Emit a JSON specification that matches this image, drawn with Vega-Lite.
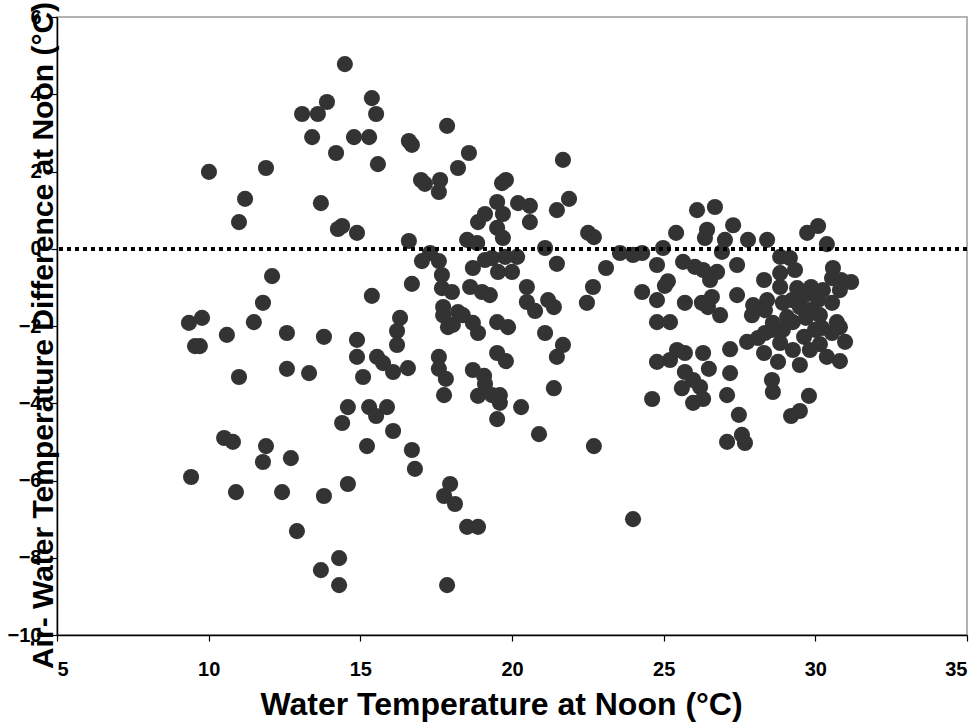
{
  "$schema": "https://vega.github.io/schema/vega-lite/v6.json",
  "width": 910,
  "height": 618,
  "autosize": "none",
  "padding": {"left": 57, "top": 17, "right": 13, "bottom": 88},
  "background": "white",
  "config": {
    "view": {"stroke": "#999999", "strokeWidth": 1.5},
    "axis": {
      "labelFont": "Liberation Sans", "labelFontWeight": "bold", "labelFontSize": 20, "labelColor": "black",
      "titleFont": "Liberation Sans", "titleFontWeight": "bold", "titleFontSize": 31, "titleColor": "black",
      "domainColor": "black", "domainWidth": 1.5, "tickColor": "black", "tickSize": 6, "tickWidth": 1.2, "grid": false
    }
  },
  "data": {"values": [
    {"x":14.49,"y":4.78},{"x":13.90,"y":3.80},{"x":13.08,"y":3.49},{"x":13.60,"y":3.49},{"x":15.38,"y":3.90},
    {"x":15.52,"y":3.49},{"x":13.41,"y":2.89},{"x":14.79,"y":2.89},{"x":15.29,"y":2.89},{"x":14.20,"y":2.48},
    {"x":15.58,"y":2.19},{"x":16.60,"y":2.79},{"x":16.70,"y":2.69},{"x":17.86,"y":3.18},{"x":10.01,"y":1.99},
    {"x":11.89,"y":2.09},{"x":11.20,"y":1.29},{"x":11.00,"y":0.69},{"x":13.70,"y":1.18},{"x":14.40,"y":0.59},
    {"x":14.26,"y":0.51},{"x":14.89,"y":0.41},{"x":16.60,"y":0.20},{"x":17.00,"y":1.78},{"x":17.13,"y":1.68},
    {"x":17.63,"y":1.78},{"x":17.59,"y":1.47},{"x":18.22,"y":2.09},{"x":18.58,"y":2.48},{"x":17.30,"y":-0.11},
    {"x":17.03,"y":-0.32},{"x":17.59,"y":-0.32},{"x":17.69,"y":-0.68},{"x":17.69,"y":-1.02},{"x":16.70,"y":-0.91},
    {"x":15.38,"y":-1.22},{"x":12.09,"y":-0.71},{"x":11.79,"y":-1.40},{"x":11.49,"y":-1.90},{"x":9.78,"y":-1.79},
    {"x":9.35,"y":-1.92},{"x":9.55,"y":-2.52},{"x":9.71,"y":-2.52},{"x":10.60,"y":-2.23},{"x":12.58,"y":-2.18},
    {"x":13.80,"y":-2.28},{"x":14.89,"y":-2.36},{"x":14.89,"y":-2.80},{"x":16.31,"y":-1.79},{"x":16.21,"y":-2.13},
    {"x":16.21,"y":-2.49},{"x":17.73,"y":-1.51},{"x":17.73,"y":-1.72},{"x":17.89,"y":-2.03},{"x":15.55,"y":-2.80},
    {"x":15.75,"y":-2.96},{"x":16.08,"y":-3.19},{"x":16.57,"y":-3.09},{"x":15.09,"y":-3.32},{"x":17.59,"y":-2.80},
    {"x":17.59,"y":-3.11},{"x":17.82,"y":-3.37},{"x":17.76,"y":-3.79},{"x":11.00,"y":-3.32},{"x":12.58,"y":-3.11},
    {"x":13.31,"y":-3.22},{"x":14.59,"y":-4.10},{"x":14.40,"y":-4.51},{"x":15.29,"y":-4.10},{"x":15.88,"y":-4.10},
    {"x":15.52,"y":-4.33},{"x":16.08,"y":-4.72},{"x":15.22,"y":-5.11},{"x":16.70,"y":-5.21},{"x":16.80,"y":-5.70},
    {"x":10.51,"y":-4.90},{"x":10.80,"y":-5.00},{"x":11.89,"y":-5.11},{"x":11.79,"y":-5.52},{"x":12.71,"y":-5.42},
    {"x":9.42,"y":-5.91},{"x":10.90,"y":-6.30},{"x":12.42,"y":-6.30},{"x":13.80,"y":-6.40},{"x":14.59,"y":-6.09},
    {"x":12.91,"y":-7.31},{"x":14.30,"y":-8.01},{"x":13.70,"y":-8.32},{"x":14.30,"y":-8.71},{"x":17.86,"y":-8.71},
    {"x":17.96,"y":-6.09},{"x":17.76,"y":-6.40},{"x":18.12,"y":-6.61},{"x":18.52,"y":-7.20},{"x":18.88,"y":-7.20},
    {"x":21.68,"y":2.30},{"x":19.80,"y":1.78},{"x":19.67,"y":1.70},{"x":21.88,"y":1.29},{"x":21.48,"y":1.00},
    {"x":19.51,"y":1.21},{"x":20.20,"y":1.18},{"x":20.59,"y":1.11},{"x":20.59,"y":0.69},{"x":19.11,"y":0.90},
    {"x":18.88,"y":0.69},{"x":19.70,"y":0.90},{"x":19.51,"y":0.54},{"x":19.70,"y":0.28},{"x":22.51,"y":0.41},
    {"x":22.70,"y":0.30},{"x":18.52,"y":0.23},{"x":18.85,"y":0.15},{"x":21.09,"y":0.02},{"x":21.48,"y":-0.39},
    {"x":18.71,"y":-0.50},{"x":19.11,"y":-0.29},{"x":19.34,"y":-0.24},{"x":19.54,"y":-0.60},{"x":20.00,"y":-0.60},
    {"x":19.77,"y":-0.21},{"x":20.17,"y":-0.21},{"x":18.02,"y":-1.12},{"x":18.62,"y":-0.99},{"x":19.01,"y":-1.12},
    {"x":19.27,"y":-1.20},{"x":20.49,"y":-0.99},{"x":20.49,"y":-1.38},{"x":20.76,"y":-1.61},{"x":21.19,"y":-1.33},
    {"x":21.38,"y":-1.51},{"x":18.22,"y":-1.64},{"x":18.38,"y":-1.72},{"x":18.05,"y":-1.97},{"x":18.71,"y":-1.92},
    {"x":18.88,"y":-2.18},{"x":19.51,"y":-1.90},{"x":19.87,"y":-2.03},{"x":21.09,"y":-2.18},{"x":21.68,"y":-2.49},
    {"x":21.48,"y":-2.80},{"x":18.71,"y":-3.14},{"x":19.08,"y":-3.29},{"x":19.11,"y":-3.50},{"x":19.51,"y":-2.70},
    {"x":19.80,"y":-2.91},{"x":18.88,"y":-3.81},{"x":19.34,"y":-3.79},{"x":19.60,"y":-3.79},{"x":19.60,"y":-3.99},
    {"x":19.51,"y":-4.41},{"x":20.30,"y":-4.10},{"x":21.38,"y":-3.61},{"x":20.89,"y":-4.80},{"x":22.70,"y":-5.11},
    {"x":23.99,"y":-7.00},{"x":24.62,"y":-3.89},{"x":23.10,"y":-0.50},{"x":23.56,"y":-0.11},{"x":23.99,"y":-0.16},
    {"x":24.29,"y":-0.11},{"x":24.98,"y":0.02},{"x":24.78,"y":-0.42},{"x":25.14,"y":-0.84},{"x":25.04,"y":-0.96},
    {"x":22.67,"y":-0.99},{"x":22.47,"y":-1.40},{"x":24.29,"y":-1.12},{"x":24.78,"y":-1.33},{"x":24.78,"y":-1.90},
    {"x":25.21,"y":-1.90},{"x":25.41,"y":0.41},{"x":26.10,"y":1.00},{"x":26.69,"y":1.08},{"x":26.43,"y":0.49},
    {"x":26.36,"y":0.28},{"x":27.29,"y":0.61},{"x":27.02,"y":0.23},{"x":27.78,"y":0.23},{"x":26.92,"y":-0.08},
    {"x":27.42,"y":-0.42},{"x":25.64,"y":-0.34},{"x":26.03,"y":-0.47},{"x":26.30,"y":-0.55},{"x":26.76,"y":-0.60},
    {"x":26.53,"y":-0.81},{"x":25.70,"y":-1.40},{"x":26.26,"y":-1.40},{"x":26.59,"y":-1.25},{"x":26.46,"y":-1.51},
    {"x":26.86,"y":-1.72},{"x":27.42,"y":-1.20},{"x":27.95,"y":-1.46},{"x":27.91,"y":-1.72},{"x":27.75,"y":-2.41},
    {"x":28.11,"y":-2.31},{"x":27.19,"y":-2.60},{"x":27.19,"y":-3.22},{"x":27.09,"y":-3.79},{"x":27.48,"y":-4.30},
    {"x":27.58,"y":-4.82},{"x":27.09,"y":-5.00},{"x":27.68,"y":-5.03},{"x":26.30,"y":-2.70},{"x":26.49,"y":-3.11},
    {"x":25.70,"y":-2.70},{"x":25.44,"y":-2.62},{"x":25.21,"y":-2.88},{"x":24.78,"y":-2.93},{"x":25.70,"y":-3.19},
    {"x":25.97,"y":-3.40},{"x":25.60,"y":-3.61},{"x":26.20,"y":-3.58},{"x":26.30,"y":-3.89},{"x":25.97,"y":-3.99},
    {"x":30.09,"y":0.59},{"x":29.73,"y":0.41},{"x":30.38,"y":0.12},{"x":28.41,"y":0.23},{"x":28.84,"y":-0.21},
    {"x":29.16,"y":-0.24},{"x":29.33,"y":-0.55},{"x":28.84,"y":-0.63},{"x":28.31,"y":-0.81},{"x":28.84,"y":-0.99},
    {"x":29.40,"y":-1.02},{"x":29.86,"y":-0.99},{"x":28.41,"y":-1.33},{"x":28.34,"y":-1.59},{"x":28.93,"y":-1.40},
    {"x":29.23,"y":-1.33},{"x":29.49,"y":-1.51},{"x":30.09,"y":-1.33},{"x":30.55,"y":-1.40},{"x":30.15,"y":-1.72},
    {"x":29.07,"y":-1.77},{"x":29.69,"y":-1.79},{"x":29.26,"y":-1.90},{"x":30.58,"y":-0.50},{"x":30.55,"y":-0.76},
    {"x":30.85,"y":-0.81},{"x":31.18,"y":-0.86},{"x":30.81,"y":-1.07},{"x":30.71,"y":-1.90},{"x":30.81,"y":-2.03},
    {"x":30.55,"y":-2.18},{"x":30.22,"y":-2.05},{"x":30.98,"y":-2.41},{"x":30.15,"y":-2.47},{"x":30.38,"y":-2.80},
    {"x":30.81,"y":-2.91},{"x":29.63,"y":-2.28},{"x":29.26,"y":-2.62},{"x":28.34,"y":-2.18},{"x":28.57,"y":-2.10},
    {"x":28.93,"y":-2.10},{"x":28.60,"y":-1.92},{"x":28.31,"y":-2.70},{"x":28.77,"y":-2.93},{"x":29.49,"y":-3.01},
    {"x":28.84,"y":-2.44},{"x":28.57,"y":-3.40},{"x":28.60,"y":-3.71},{"x":29.79,"y":-3.81},{"x":29.49,"y":-4.20},
    {"x":29.20,"y":-4.33},{"x":29.82,"y":-1.59},{"x":30.25,"y":-1.07},{"x":29.66,"y":-1.20},{"x":29.99,"y":-2.10},
    {"x":29.82,"y":-2.62}
  ]},
  "layer": [
    {
      "mark": {"type": "point", "filled": true, "shape": "circle", "size": 260, "color": "#333333", "opacity": 1},
      "encoding": {
        "x": {"field": "x", "type": "quantitative",
              "scale": {"domain": [5, 35], "nice": false, "zero": false},
              "axis": {"values": [5, 10, 15, 20, 25, 30, 35], "title": "Water Temperature at Noon (°C)", "labelPadding": 18,
                       "titleFontSize": 32, "titleX": 444, "titleAnchor": null, "titleAlign": "center",
                       "titleY": 79, "titleBaseline": "alphabetic"}},
        "y": {"field": "y", "type": "quantitative",
              "scale": {"domain": [-10, 6], "nice": false, "zero": false},
              "axis": {"values": [-10, -8, -6, -4, -2, 0, 2, 4, 6], "title": "Air- Water Temperature Difference at Noon (°C)",
                       "labelPadding": 10, "titleFontSize": 30, "titleX": -5, "titleY": 318, "titleBaseline": "alphabetic", "titleAngle": -90}}
      }
    },
    {
      "mark": {"type": "rule", "color": "black", "strokeWidth": 3.5, "strokeDash": [4, 4]},
      "encoding": {"y": {"datum": 0}}
    }
  ]
}
